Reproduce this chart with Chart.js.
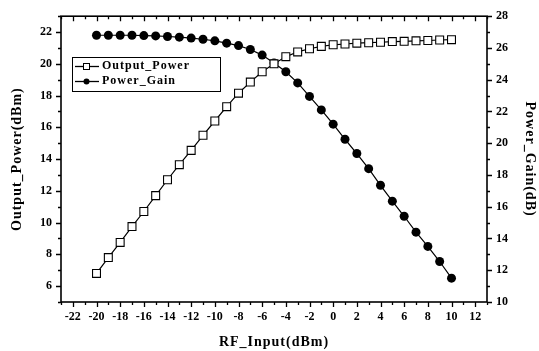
<!DOCTYPE html>
<html>
<head>
<meta charset="utf-8">
<script src="https://cdn.jsdelivr.net/npm/chart.js@4.4.1/dist/chart.umd.min.js"></script>
<style>
  html, body { margin: 0; padding: 0; background: #fff; }
  #wrap { width: 539px; height: 351px; }
</style>
</head>
<body>
<div id="wrap"><canvas id="ourChart" width="539" height="351"></canvas></div>
<script>
var rfInput = [-20, -19, -18, -17, -16, -15, -14, -13, -12, -11, -10, -9, -8, -7, -6, -5, -4, -3, -2, -1, 0, 1, 2, 3, 4, 5, 6, 7, 8, 9, 10];
var outputPower = [6.8, 7.8, 8.75, 9.75, 10.7, 11.7, 12.7, 13.65, 14.55, 15.5, 16.4, 17.3, 18.15, 18.85, 19.5, 20.0, 20.45, 20.75, 20.95, 21.1, 21.2, 21.25, 21.3, 21.33, 21.36, 21.4, 21.42, 21.45, 21.47, 21.5, 21.52];
var powerGain = [26.8, 26.8, 26.8, 26.8, 26.78, 26.76, 26.72, 26.68, 26.62, 26.55, 26.45, 26.3, 26.15, 25.9, 25.55, 25.05, 24.5, 23.8, 22.95, 22.1, 21.2, 20.25, 19.35, 18.4, 17.35, 16.35, 15.4, 14.4, 13.5, 12.55, 11.5];
var xTicks = [-22, -20, -18, -16, -14, -12, -10, -8, -6, -4, -2, 0, 2, 4, 6, 8, 10, 12];
var leftTicks = [6, 8, 10, 12, 14, 16, 18, 20, 22];
var rightTicks = [10, 12, 14, 16, 18, 20, 22, 24, 26, 28];

var serif = "'Liberation Serif', 'DejaVu Serif', serif";
var tickFont = { family: serif, size: 12, weight: 'bold' };

function toPoints(ys) {
    return rfInput.map(function (x, i) { return { x: x, y: ys[i] }; });
}

// frame, tick marks, axis titles and the boxed legend
var framePlugin = {
    id: 'frame',
    afterDraw: function (chart) {
        var ctx = chart.ctx;
        var a = chart.chartArea;
        var sx = chart.scales.x, sy = chart.scales.y, sy2 = chart.scales.y2;
        ctx.save();
        ctx.strokeStyle = '#000';
        ctx.lineWidth = 1.6;
        ctx.strokeRect(a.left, a.top, a.right - a.left, a.bottom - a.top);

        ctx.lineWidth = 1.3;
        ctx.beginPath();
        for (var v = -23; v <= 13; v++) {
            var px = Math.round(sx.getPixelForValue(v)) + 0.5;
            var len = (v % 2 === 0) ? 5 : 3;
            ctx.moveTo(px, a.bottom); ctx.lineTo(px, a.bottom + len);
            ctx.moveTo(px, a.top); ctx.lineTo(px, a.top + len);
        }
        for (var w = 5; w <= 23; w++) {
            var py = Math.round(sy.getPixelForValue(w)) + 0.5;
            var l2 = (w % 2 === 0) ? 5 : 3;
            ctx.moveTo(a.left, py); ctx.lineTo(a.left - l2, py);
        }
        for (var g = 10; g <= 28; g++) {
            var py2 = Math.round(sy2.getPixelForValue(g)) + 0.5;
            var l3 = (g % 2 === 0) ? 5 : 3;
            ctx.moveTo(a.right, py2); ctx.lineTo(a.right + l3, py2);
        }
        ctx.stroke();

        // axis titles
        ctx.fillStyle = '#000';
        ctx.font = 'bold 14px ' + serif;
        ctx.letterSpacing = '1px';
        ctx.textAlign = 'center';
        ctx.textBaseline = 'middle';
        ctx.fillText('RF_Input(dBm)', (a.left + a.right) / 2, 342);
        ctx.save();
        ctx.translate(17, (a.top + a.bottom) / 2);
        ctx.rotate(-Math.PI / 2);
        ctx.fillText('Output_Power(dBm)', 0, 0);
        ctx.restore();
        ctx.save();
        ctx.translate(530, (a.top + a.bottom) / 2);
        ctx.rotate(Math.PI / 2);
        ctx.fillText('Power_Gain(dB)', 0, 0);
        ctx.restore();

        // legend
        ctx.lineWidth = 1;
        ctx.strokeRect(72.5, 57.5, 148, 34);
        ctx.font = 'bold 12px ' + serif;
        ctx.textAlign = 'left';
        var rows = [66, 81];
        chart.data.datasets.forEach(function (ds, i) {
            var y = rows[i] + 0.5;
            ctx.lineWidth = 1.3;
            ctx.beginPath();
            ctx.moveTo(75, y); ctx.lineTo(99, y);
            ctx.stroke();
            ctx.beginPath();
            if (i === 0) {
                ctx.fillStyle = '#fff';
                ctx.fillRect(83.5, y - 3, 6, 6);
                ctx.lineWidth = 1;
                ctx.strokeRect(83.5, y - 3, 6, 6);
            } else {
                ctx.fillStyle = '#000';
                ctx.arc(86.5, y, 3, 0, Math.PI * 2);
                ctx.fill();
            }
            ctx.fillStyle = '#000';
            ctx.fillText(ds.label, 102, rows[i]);
        });
        ctx.restore();
    }
};

var chartElement = new Chart(document.getElementById('ourChart'), {
    type: 'line',
    data: {
        datasets: [
            {
                label: 'Output_Power',
                data: toPoints(outputPower),
                yAxisID: 'y',
                borderColor: '#000',
                borderWidth: 1.2,
                backgroundColor: '#fff',
                pointStyle: 'rect',
                pointRadius: 5.6,
                pointBorderWidth: 1.1,
                pointBorderColor: '#000',
                pointBackgroundColor: '#fff',
                tension: 0
            },
            {
                label: 'Power_Gain',
                data: toPoints(powerGain),
                yAxisID: 'y2',
                borderColor: '#000',
                borderWidth: 1.2,
                backgroundColor: '#000',
                pointStyle: 'circle',
                pointRadius: 4.5,
                pointBorderWidth: 0,
                pointBackgroundColor: '#000',
                tension: 0
            }
        ]
    },
    options: {
        responsive: false,
        animation: false,
        layout: { padding: { top: 14, left: 0, right: 0, bottom: 0 } },
        plugins: { legend: { display: false }, tooltip: { enabled: false } },
        scales: {
            x: {
                type: 'linear', min: -23, max: 13,
                afterBuildTicks: function (s) { s.ticks = xTicks.map(function (v) { return { value: v }; }); },
                afterFit: function (s) { s.height = 49; },
                grid: { display: false, drawTicks: false },
                border: { display: false },
                ticks: { font: tickFont, color: '#000', padding: 8, maxRotation: 0, autoSkip: false }
            },
            y: {
                type: 'linear', position: 'left', min: 5, max: 23,
                afterBuildTicks: function (s) { s.ticks = leftTicks.map(function (v) { return { value: v }; }); },
                afterFit: function (s) { s.width = 61; },
                grid: { display: false, drawTicks: false },
                border: { display: false },
                ticks: { font: tickFont, color: '#000', padding: 9, autoSkip: false }
            },
            y2: {
                type: 'linear', position: 'right', min: 10, max: 28,
                afterBuildTicks: function (s) { s.ticks = rightTicks.map(function (v) { return { value: v }; }); },
                afterFit: function (s) { s.width = 52; },
                grid: { display: false, drawTicks: false },
                border: { display: false },
                ticks: { font: tickFont, color: '#000', padding: 9, autoSkip: false }
            }
        }
    },
    plugins: [framePlugin]
});
</script>
</body>
</html>
